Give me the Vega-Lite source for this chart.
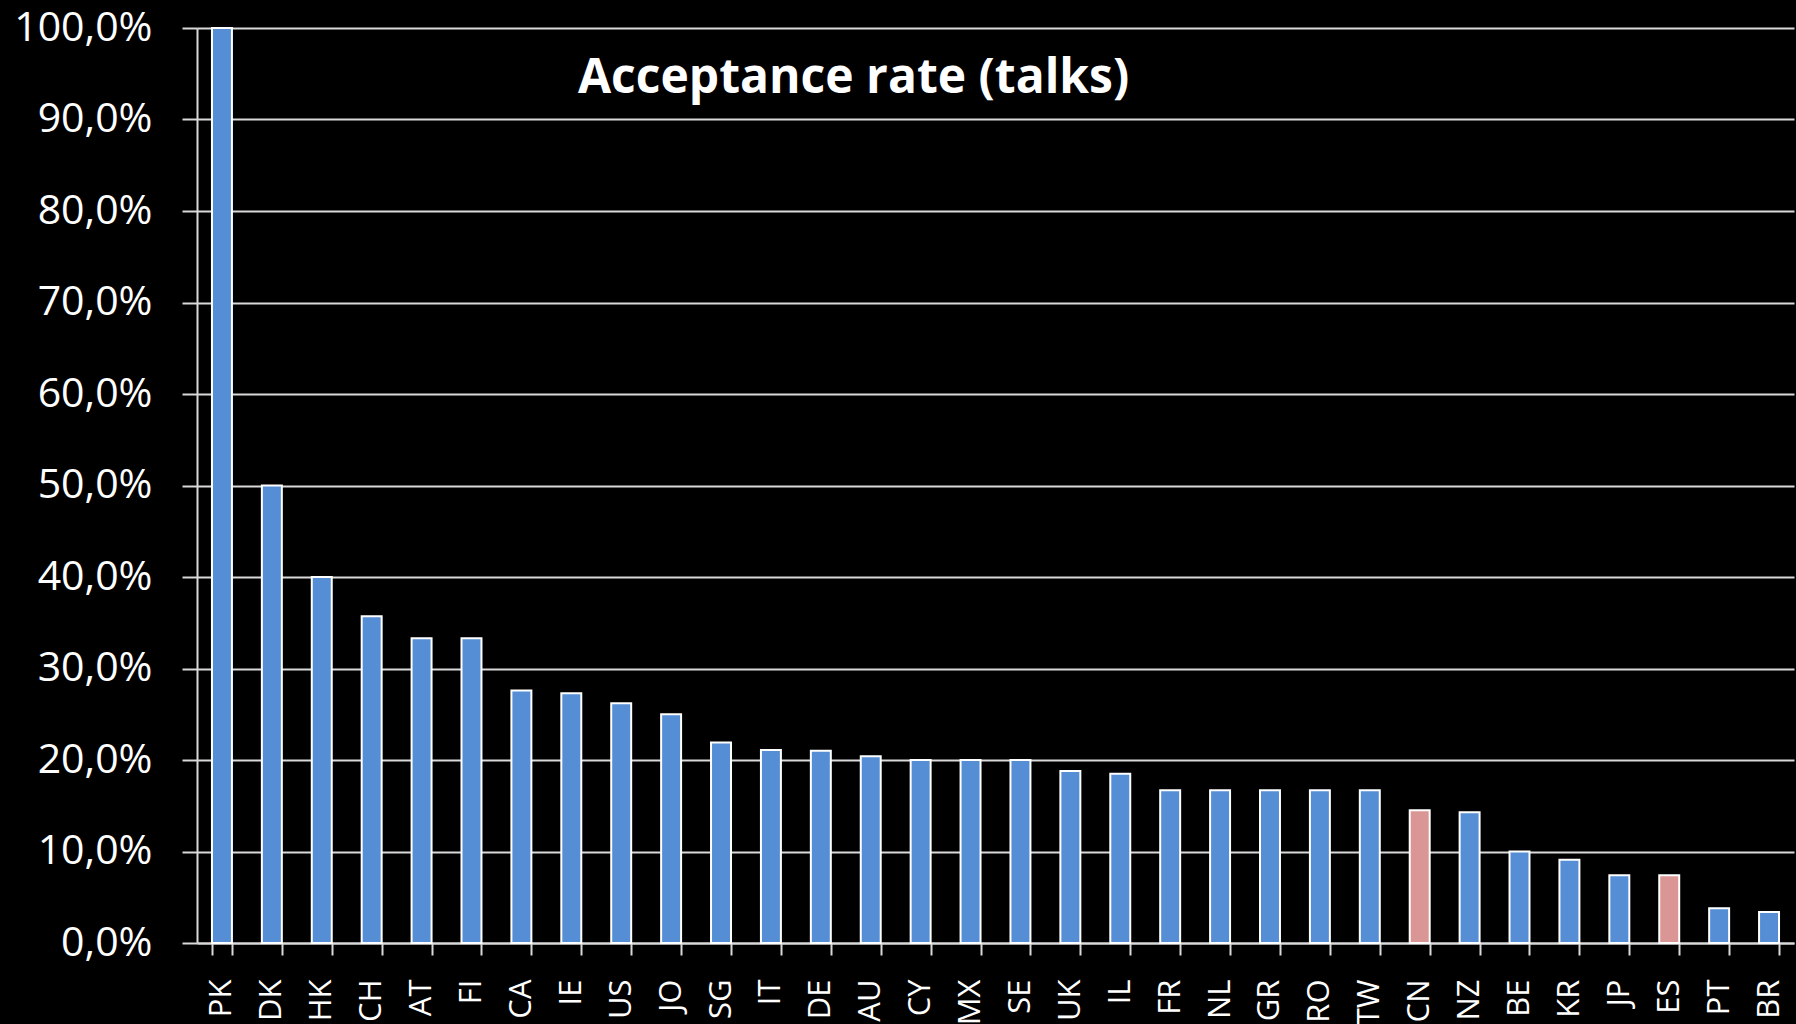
{
  "$schema": "https://vega.github.io/schema/vega-lite/v6.json",
  "width": 1597,
  "height": 915,
  "autosize": {"type": "none"},
  "padding": {"left": 197, "top": 28, "right": 2, "bottom": 81},
  "background": "#000000",
  "title": {
    "text": "Acceptance rate (talks)",
    "anchor": "start",
    "frame": "group",
    "orient": "top",
    "baseline": "top",
    "offset": 0,
    "dx": 381,
    "dy": 96,
    "font": "Open Sans",
    "fontSize": 48,
    "fontWeight": "bold",
    "color": "#FFFFFF"
  },
  "data": {
    "values": [
      {"country": "PK", "rate": 1.0, "group": "normal"},
      {"country": "DK", "rate": 0.5, "group": "normal"},
      {"country": "HK", "rate": 0.4, "group": "normal"},
      {"country": "CH", "rate": 0.357, "group": "normal"},
      {"country": "AT", "rate": 0.333, "group": "normal"},
      {"country": "FI", "rate": 0.333, "group": "normal"},
      {"country": "CA", "rate": 0.276, "group": "normal"},
      {"country": "IE", "rate": 0.273, "group": "normal"},
      {"country": "US", "rate": 0.262, "group": "normal"},
      {"country": "JO", "rate": 0.25, "group": "normal"},
      {"country": "SG", "rate": 0.219, "group": "normal"},
      {"country": "IT", "rate": 0.211, "group": "normal"},
      {"country": "DE", "rate": 0.21, "group": "normal"},
      {"country": "AU", "rate": 0.204, "group": "normal"},
      {"country": "CY", "rate": 0.2, "group": "normal"},
      {"country": "MX", "rate": 0.2, "group": "normal"},
      {"country": "SE", "rate": 0.2, "group": "normal"},
      {"country": "UK", "rate": 0.188, "group": "normal"},
      {"country": "IL", "rate": 0.185, "group": "normal"},
      {"country": "FR", "rate": 0.167, "group": "normal"},
      {"country": "NL", "rate": 0.167, "group": "normal"},
      {"country": "GR", "rate": 0.167, "group": "normal"},
      {"country": "RO", "rate": 0.167, "group": "normal"},
      {"country": "TW", "rate": 0.167, "group": "normal"},
      {"country": "CN", "rate": 0.145, "group": "highlight"},
      {"country": "NZ", "rate": 0.143, "group": "normal"},
      {"country": "BE", "rate": 0.1, "group": "normal"},
      {"country": "KR", "rate": 0.091, "group": "normal"},
      {"country": "JP", "rate": 0.074, "group": "normal"},
      {"country": "ES", "rate": 0.074, "group": "highlight"},
      {"country": "PT", "rate": 0.038, "group": "normal"},
      {"country": "BR", "rate": 0.034, "group": "normal"}
    ]
  },
  "mark": {"type": "bar", "stroke": "#FFFFFF", "strokeWidth": 2},
  "encoding": {
    "x": {
      "field": "country",
      "type": "nominal",
      "sort": null,
      "scale": {"paddingInner": 0.6, "paddingOuter": 0.3},
      "axis": {
        "title": null,
        "labelAngle": -90,
        "labelFont": "Open Sans",
        "labelFontSize": 31,
        "labelColor": "#FFFFFF",
        "labelPadding": 24,
        "tickBand": "extent",
        "tickSize": 12,
        "tickColor": "#D9D9D9",
        "tickWidth": 2,
        "domainColor": "#D9D9D9",
        "domainWidth": 2,
        "grid": false
      }
    },
    "y": {
      "field": "rate",
      "type": "quantitative",
      "scale": {"domain": [0, 1], "nice": false},
      "axis": {
        "title": null,
        "format": ".1%",
        "values": [0, 0.1, 0.2, 0.3, 0.4, 0.5, 0.6, 0.7, 0.8, 0.9, 1.0],
        "labelFont": "Open Sans",
        "labelFontSize": 41,
        "labelColor": "#FFFFFF",
        "labelPadding": 30,
        "tickSize": 15,
        "tickColor": "#D9D9D9",
        "tickWidth": 2,
        "domainColor": "#D9D9D9",
        "domainWidth": 2,
        "grid": true,
        "gridColor": "#D9D9D9",
        "gridWidth": 2
      }
    },
    "color": {
      "field": "group",
      "type": "nominal",
      "scale": {"domain": ["normal", "highlight"], "range": ["#558ED5", "#D99694"]},
      "legend": null
    }
  },
  "config": {
    "view": {"stroke": null},
    "locale": {
      "number": {"decimal": ",", "thousands": ".", "grouping": [3], "currency": ["", " €"]}
    }
  }
}
